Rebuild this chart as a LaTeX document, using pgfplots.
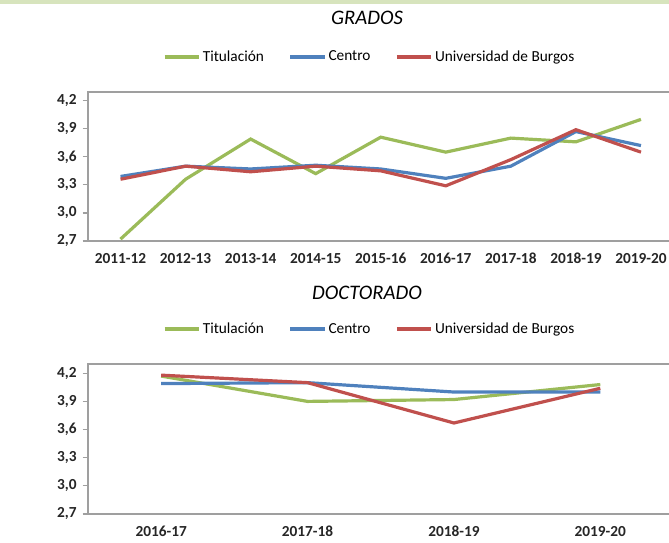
\documentclass[border=0pt]{standalone}
\usepackage{fontspec}
\setmainfont{Carlito}
\usepackage{pgfplots}
\pgfplotsset{compat=1.18}
\definecolor{cgreen}{HTML}{9BBB59}
\definecolor{cblue}{HTML}{4F81BD}
\definecolor{cred}{HTML}{C0504D}
\definecolor{cband}{HTML}{D7E4BD}
\pgfplotsset{
  mystyle/.style={
    scale only axis,
    width=439.125pt,
    ymin=2.7,
    ytick={2.7,3.0,3.3,3.6,3.9,4.2},
    /pgf/number format/.cd, use comma, fixed, fixed zerofill, precision=1, assume math mode=true,
    /pgfplots/.cd,
    ticklabel style={font=\bfseries\fontsize{11.5}{13}\selectfont, text=black!85},
    yticklabel style={xshift=-1pt},
    xticklabel style={yshift=-1.5pt},
    axis line style={draw=gray!75, line width=1.4pt},
    tick align=outside,
    ytick pos=left,
    xtick pos=bottom,
    major tick length=4pt,
    y tick style={draw=gray!75, line width=0.9pt},
    x tick style={draw=none},
    xtick=data,
    legend columns=3,
    legend style={draw=none, fill=none, font=\fontsize{11.5}{13}\selectfont,
      /tikz/every even column/.append style={column sep=17pt},
      nodes={inner sep=1.5pt}},
    legend image code/.code={\draw[#1] (0pt,0pt) -- (26pt,0pt);},
    every axis plot/.append style={line width=2.4pt, mark=none},
  }
}
\begin{document}
\begin{tikzpicture}
\useasboundingbox (0,0) rectangle (501.75pt,407.25pt);
\fill[cband] (0,404.25pt) rectangle (501.75pt,407.25pt);
\node[font=\itshape\fontsize{15.5}{18}\selectfont] at (275.25pt,393.75pt) {GRADOS};
\node[font=\itshape\fontsize{15.5}{18}\selectfont] at (275.25pt,187.5pt) {DOCTORADO};
\begin{axis}[mystyle,
  at={(66pt,226.5pt)}, anchor=south west,
  height=111.75pt,
  xmin=-0.5, xmax=8.5, ymax=4.293,
  xticklabels={2011-12,2012-13,2013-14,2014-15,2015-16,2016-17,2017-18,2018-19,2019-20},
  legend style={at={(0.481,1.235)}, anchor=center},
]
\addplot[cgreen] coordinates {(0,2.72) (1,3.36) (2,3.79) (3,3.42) (4,3.81) (5,3.65) (6,3.80) (7,3.76) (8,4.00)};
\addplot[cblue] coordinates {(0,3.39) (1,3.50) (2,3.47) (3,3.51) (4,3.47) (5,3.37) (6,3.50) (7,3.87) (8,3.72)};
\addplot[cred] coordinates {(0,3.36) (1,3.50) (2,3.44) (3,3.50) (4,3.45) (5,3.29) (6,3.57) (7,3.89) (8,3.65)};
\legend{Titulación,Centro,Universidad de Burgos}
\end{axis}
\begin{axis}[mystyle,
  at={(66pt,21.75pt)}, anchor=south west,
  height=112.3pt,
  xmin=-0.5, xmax=3.5, ymax=4.296,
  xticklabels={2016-17,2017-18,2018-19,2019-20},
  legend style={at={(0.481,1.235)}, anchor=center},
]
\addplot[cgreen] coordinates {(0,4.17) (1,3.90) (2,3.92) (3,4.08)};
\addplot[cblue] coordinates {(0,4.09) (1,4.10) (2,4.00) (3,4.00)};
\addplot[cred] coordinates {(0,4.18) (1,4.10) (2,3.67) (3,4.04)};
\legend{Titulación,Centro,Universidad de Burgos}
\end{axis}
\end{tikzpicture}
\end{document}
